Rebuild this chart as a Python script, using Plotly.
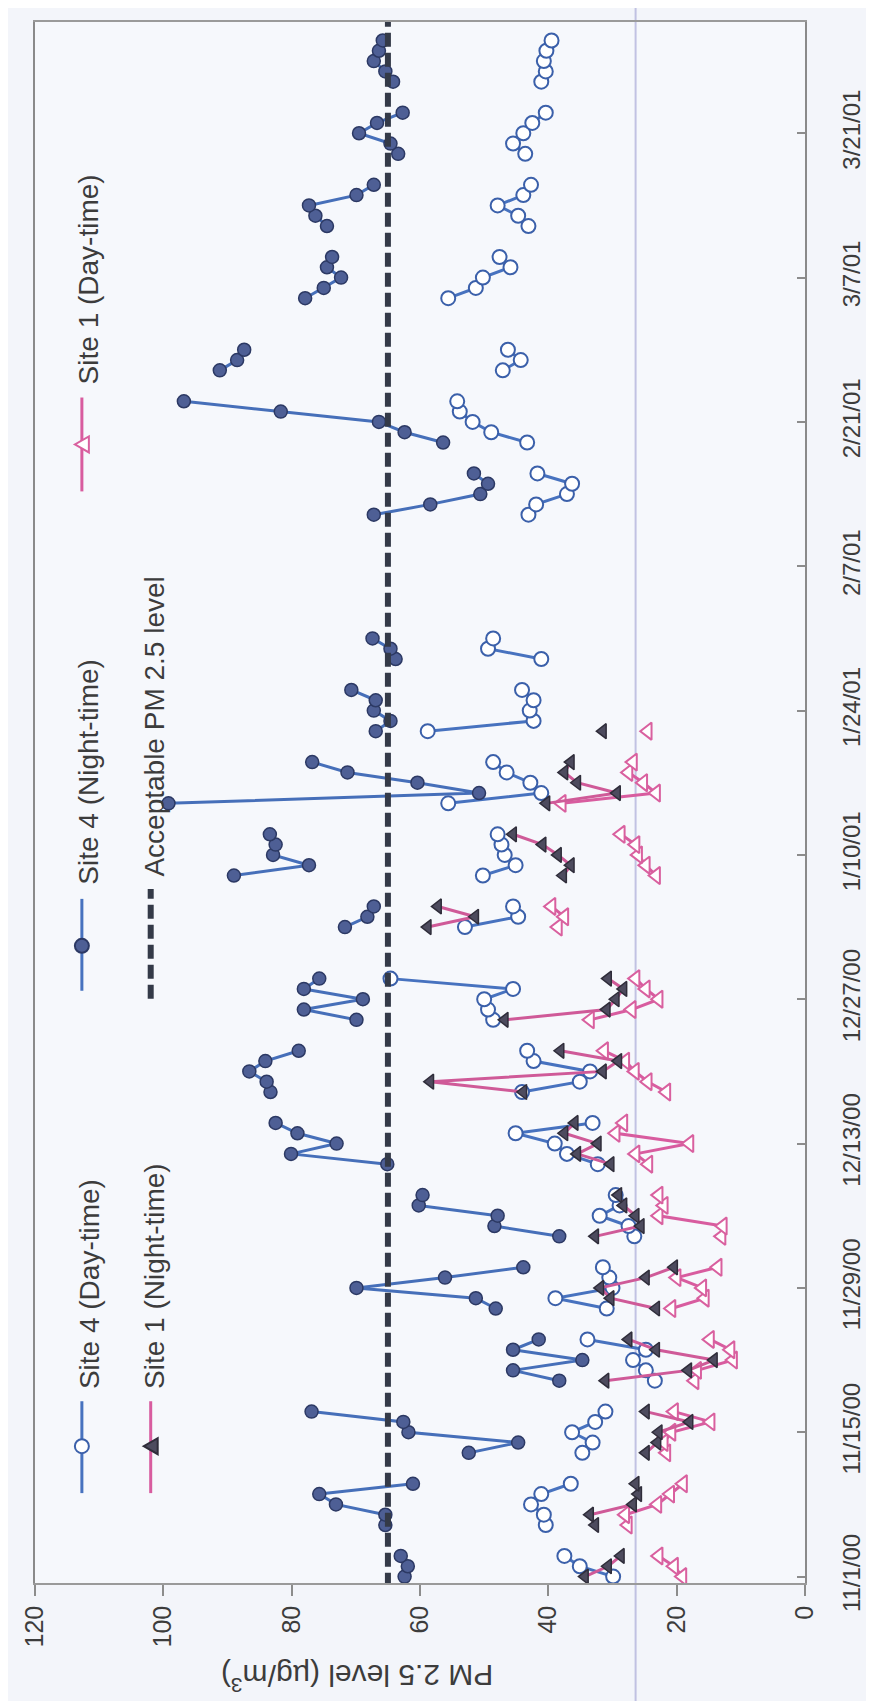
import plotly.graph_objects as go
import pandas as pd

# ---------------- data ----------------
DATES = [
    "2000-11-01", "2000-11-02", "2000-11-03",
    "2000-11-06", "2000-11-07", "2000-11-08", "2000-11-09", "2000-11-10",
    "2000-11-13", "2000-11-14", "2000-11-15", "2000-11-16", "2000-11-17",
    "2000-11-20", "2000-11-21", "2000-11-22", "2000-11-23", "2000-11-24",
    "2000-11-27", "2000-11-28", "2000-11-29", "2000-11-30", "2000-12-01",
    "2000-12-04", "2000-12-05", "2000-12-06", "2000-12-07", "2000-12-08",
    "2000-12-11", "2000-12-12", "2000-12-13", "2000-12-14", "2000-12-15",
    "2000-12-18", "2000-12-19", "2000-12-20", "2000-12-21", "2000-12-22",
    "2000-12-25", "2000-12-26", "2000-12-27", "2000-12-28", "2000-12-29",
    "2001-01-03", "2001-01-04", "2001-01-05",
    "2001-01-08", "2001-01-09", "2001-01-10", "2001-01-11", "2001-01-12",
    "2001-01-15", "2001-01-16", "2001-01-17", "2001-01-18", "2001-01-19",
    "2001-01-22", "2001-01-23", "2001-01-24", "2001-01-25", "2001-01-26",
    "2001-01-29", "2001-01-30", "2001-01-31",
    "2001-02-12", "2001-02-13", "2001-02-14", "2001-02-15", "2001-02-16",
    "2001-02-19", "2001-02-20", "2001-02-21", "2001-02-22", "2001-02-23",
    "2001-02-26", "2001-02-27", "2001-02-28",
    "2001-03-05", "2001-03-06", "2001-03-07", "2001-03-08", "2001-03-09",
    "2001-03-12", "2001-03-13", "2001-03-14", "2001-03-15", "2001-03-16",
    "2001-03-19", "2001-03-20", "2001-03-21", "2001-03-22", "2001-03-23",
    "2001-03-26", "2001-03-27", "2001-03-28", "2001-03-29", "2001-03-30",
]

SITE4_DAY = [
    29.9, 35.1, 37.5,
    40.4, 40.7, 42.7, 41.1, 36.5,
    34.7, 33.1, 36.3, 32.7, 31.1,
    23.4, 24.8, 26.8, 24.8, 33.9,
    30.9, 38.9, 30.0, 30.5, 31.5,
    26.6, 27.5, 32.0, 28.9, 29.5,
    32.3, 37.1, 39.0, 45.1, 33.1,
    44.1, 35.1, 33.5, 42.3, 43.3,
    48.6, 49.4, 50.0, 45.5, 64.6,
    53.0, 44.7, 45.5,
    50.2, 45.1, 46.8, 47.3, 47.9,
    55.6, 41.1, 42.8, 46.5, 48.6,
    58.8, 42.3, 42.9, 42.3, 44.1,
    41.1, 49.4, 48.6,
    43.1, 41.9, 37.1, 36.3, 41.7,
    43.3, 48.9, 51.8, 53.8, 54.2,
    47.1, 44.3, 46.3,
    55.6, 51.3, 50.2, 45.9, 47.6,
    43.1, 44.7, 47.9, 43.9, 42.7,
    43.6, 45.5, 43.9, 42.5, 40.4,
    41.1, 40.4, 40.7, 40.3, 39.5,
]

SITE4_NIGHT = [
    62.4, 61.9, 63.0,
    65.4, 65.4, 73.1, 75.7, 61.1,
    52.4, 44.7, 61.8, 62.6, 76.9,
    38.3, 45.5, 34.7, 45.5, 41.5,
    48.2, 51.3, 69.9, 56.1, 43.9,
    38.3, 48.4, 47.9, 60.2, 59.6,
    65.1, 80.1, 73.0, 79.1, 82.5,
    83.3, 83.9, 86.6, 84.1, 78.9,
    69.9, 78.1, 68.9, 78.1, 75.7,
    71.7, 68.2, 67.2,
    89.0, 77.3, 82.9, 82.5, 83.4,
    99.2, 50.8, 60.4, 71.3, 76.8,
    66.9, 64.6, 67.2, 66.9, 70.7,
    63.8, 64.6, 67.4,
    67.2, 58.4, 50.6, 49.4, 51.6,
    56.4, 62.4, 66.4, 81.7, 96.8,
    91.2, 88.5, 87.4,
    77.9, 75.0, 72.3, 74.5, 73.7,
    74.5, 76.3, 77.3, 69.9, 67.2,
    63.4, 64.6, 69.5, 66.7, 62.7,
    64.2, 65.4, 67.2, 66.4, 65.8,
]

SITE1_DAY = [
    19.1, 20.4, 22.8,
    27.6, 28.0, 23.0, 21.0, 19.0,
    21.6, 22.0, 20.8, 14.7, 20.4,
    17.2, 16.8, 11.2, 11.6, 14.8,
    20.8, 15.6, 16.0, 20.0, 13.6,
    13.0, 12.8, 22.8, 22.0, 22.8,
    24.4, 26.4, 18.0, 29.5, 28.3,
    21.6, 24.5, 26.5, 28.0, 31.3,
    33.5, 27.0, 22.8, 24.8, 26.4,
    38.5, 37.5, 39.5,
    23.2, 24.8, 26.0, 26.4, 28.7,
    37.9, 23.2, 25.2, 27.5, 26.8,
    24.5, None, None, None, None,
]

SITE1_NIGHT = [
    34.3, 30.7, 28.7,
    32.7, 33.5, 26.8, 26.0, 26.4,
    24.8, 23.0, 22.8, 18.0, 24.8,
    31.1, 18.2, 14.2, 23.2, 27.5,
    23.2, 30.3, 31.9, 24.8, 20.4,
    32.7, 25.6, 26.4, 28.3, 29.1,
    30.3, 35.5, 32.3, 37.5, 35.9,
    43.9, 58.4, 31.5, 29.1, 38.1,
    46.8, 30.9, 29.5, 28.3, 30.7,
    58.8, 51.4, 57.2,
    37.7, 36.5, 38.5, 40.9, 45.5,
    40.3, 29.3, 35.5, 37.5, 36.5,
    31.5, None, None, None, None,
]

ACCEPTABLE_LEVEL = 65
ACCEPTABLE_SPAN = ["2000-10-31", "2001-04-01"]

DATE_RANGE = ["2000-10-31 09:00", "2001-03-31 19:00"]
DATE_TICKS = ["2000-11-01", "2000-11-15", "2000-11-29", "2000-12-13", "2000-12-27",
              "2001-01-10", "2001-01-24", "2001-02-07", "2001-02-21", "2001-03-07",
              "2001-03-21"]
DATE_TICK_LABELS = ["11/1/00", "11/15/00", "11/29/00", "12/13/00", "12/27/00",
                    "1/10/01", "1/24/01", "2/7/01", "2/21/01", "3/7/01", "3/21/01"]
VALUE_TICKS = [0, 20, 40, 60, 80, 100, 120]

FONT = "Liberation Sans, Arial, sans-serif"
TEXT = "#3c3c3c"


def with_gaps(dates, values):
    """Insert a break wherever sampling days are not consecutive (weekends, holidays)."""
    xs, ys, prev = [], [], None
    for d, v in zip(dates, values):
        t = pd.Timestamp(d)
        if prev is not None and (t - prev).days > 1:
            xs.append(prev + pd.Timedelta(hours=12))
            ys.append(None)
        xs.append(t)
        ys.append(v)
        prev = t
    return xs, ys


fig = go.Figure()

series = [
    ("Site 4 (Day-time)", DATES, SITE4_DAY, "#4772bf",
     dict(symbol="circle", size=14, color="#ffffff", line=dict(color="#3b60aa", width=2))),
    ("Site 4 (Night-time)", DATES, SITE4_NIGHT, "#466fb9",
     dict(symbol="circle", size=13, color="#4e5f95", line=dict(color="#2c3964", width=1.5))),
    ("Site 1 (Day-time)", DATES[:len(SITE1_DAY)], SITE1_DAY, "#d85c9f",
     dict(symbol="triangle-left", size=15, color="#ffffff", line=dict(color="#d9609f", width=2))),
    ("Site 1 (Night-time)", DATES[:len(SITE1_NIGHT)], SITE1_NIGHT, "#cf5a98",
     dict(symbol="triangle-left", size=13, color="#4d4b5e", line=dict(color="#2f2d3a", width=1.5))),
]

for name, d, v, lc, mk in series:
    ys, xs = with_gaps(d, v)
    fig.add_trace(go.Scatter(
        x=xs, y=ys, name=name, mode="lines+markers",
        line=dict(color=lc, width=3), marker=mk, connectgaps=False,
        showlegend=False,
    ))

fig.add_trace(go.Scatter(
    x=[ACCEPTABLE_LEVEL] * len(ACCEPTABLE_SPAN), y=ACCEPTABLE_SPAN,
    name="Acceptable PM 2.5 level", mode="lines",
    line=dict(color="#343a48", width=6, dash="14px,6px"), showlegend=False,
))

# ---------------- axes ----------------
fig.update_xaxes(
    range=[120, 0], tickvals=VALUE_TICKS, ticktext=[str(t) for t in VALUE_TICKS],
    tickangle=-90, ticks="outside", ticklen=11, tickcolor="#8c8c8c", tickwidth=1.5,
    showline=True, linecolor="#9a9a9a", linewidth=1.5, mirror=True,
    showgrid=False, zeroline=False,
    tickfont=dict(family=FONT, size=25, color=TEXT),
)
fig.update_yaxes(
    type="date", range=DATE_RANGE, side="right",
    tickvals=DATE_TICKS, ticktext=DATE_TICK_LABELS,
    tickangle=-90, ticks="inside", ticklen=8, tickcolor="#8c8c8c", tickwidth=1.5,
    showline=True, linecolor="#8a8a8a", linewidth=2, mirror=True,
    showgrid=False, zeroline=False, ticklabelstandoff=24,
    tickfont=dict(family=FONT, size=24, color=TEXT),
)

# ---------------- legend (drawn rotated, as in the scanned page) ----------------
W_PLOT, H_PLOT, L, T = 772, 1563, 25, 12


def px(xp):
    return (xp - L) / W_PLOT


def py(yp):
    return (T + H_PLOT - yp) / H_PLOT


shapes = []
annotations = []
legend_entries = [
    # label, sample x, text x, sample y0, y1, marker y, text start y, kind
    ("Site 4 (Day-time)", 72, 79, 1393, 1485, 1438, 1383, "d4"),
    ("Site 4 (Night-time)", 72, 79, 890, 982, 937, 878, "n4"),
    ("Site 1 (Day-time)", 72, 79, 388, 482, 435, 377, "d1"),
    ("Site 1 (Night-time)", 141, 145, 1393, 1485, 1438, 1383, "n1"),
    ("Acceptable PM 2.5 level", 141, 145, 880, 990, None, 870, "lim"),
]
for label, sx, tx, y0, y1, my, ty, kind in legend_entries:
    if kind == "lim":
        shapes.append(dict(type="line", xref="paper", yref="paper", x0=px(sx), x1=px(sx),
                           y0=py(y1), y1=py(y0),
                           line=dict(color="#343a48", width=6, dash="14px,6px")))
    else:
        col = "#4772bf" if kind in ("d4", "n4") else "#d85c9f"
        shapes.append(dict(type="line", xref="paper", yref="paper", x0=px(sx), x1=px(sx),
                           y0=py(y1), y1=py(y0), line=dict(color=col, width=3)))
        if kind in ("d4", "n4"):
            fill = "#ffffff" if kind == "d4" else "#4e5f95"
            edge = "#3b60aa" if kind == "d4" else "#2c3964"
            shapes.append(dict(type="circle", xref="paper", yref="paper",
                               xsizemode="pixel", ysizemode="pixel",
                               xanchor=px(sx), yanchor=py(my),
                               x0=-7, x1=7, y0=-7, y1=7,
                               fillcolor=fill, line=dict(color=edge, width=2)))
        else:
            fill = "#ffffff" if kind == "d1" else "#4d4b5e"
            edge = "#d9609f" if kind == "d1" else "#2f2d3a"
            shapes.append(dict(type="path", xref="paper", yref="paper",
                               xsizemode="pixel", ysizemode="pixel",
                               xanchor=px(sx), yanchor=py(my),
                               path="M -7 0 L 7 -8 L 7 8 Z",
                               fillcolor=fill, line=dict(color=edge, width=2)))
    annotations.append(dict(text=label, xref="paper", yref="paper", x=px(tx), y=py(ty),
                            xanchor="center", yanchor="bottom", textangle=-90,
                            showarrow=False, font=dict(family=FONT, size=28, color=TEXT)))

# faint vertical streak of the scanned page
shapes.append(dict(type="line", xref="x", yref="paper", x0=26.4, x1=26.4, y0=-0.09, y1=1.01,
                   line=dict(color="rgba(150,150,205,0.55)", width=2), layer="below"))

# value-axis title (upside down, as on the rotated page)
annotations.append(dict(text="PM 2.5 level (\u00b5g/m<sup>3</sup>)", xref="paper", yref="paper",
                        x=px(348), y=py(1670), xanchor="center", yanchor="middle",
                        textangle=180, showarrow=False,
                        font=dict(family=FONT, size=30, color=TEXT)))

fig.update_layout(
    width=874, height=1701,
    margin=dict(l=L, r=874 - L - W_PLOT, t=T, b=1701 - T - H_PLOT),
    paper_bgcolor="#f3f5fa", plot_bgcolor="#f6f8fc",
    shapes=shapes, annotations=annotations, showlegend=False,
)

fig.write_html("out.html")
